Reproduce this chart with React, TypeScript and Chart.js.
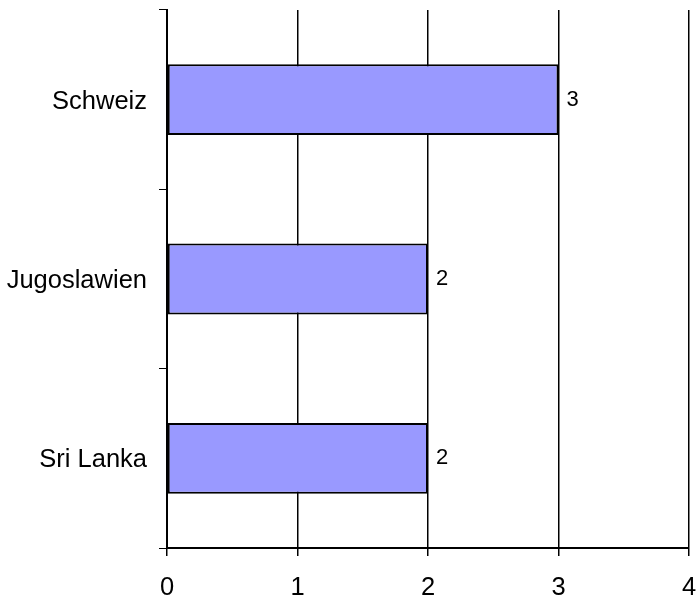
import React, { useEffect, useRef } from "react";
import { Chart, registerables } from "chart.js";

Chart.register(...registerables);

const categories = ["Schweiz", "Jugoslawien", "Sri Lanka"];
const values = [3, 2, 2];
const xMin = 0;
const xMax = 4;

const FONT = "'Liberation Sans', Arial, sans-serif";

const valueLabels = {
  id: "valueLabels",
  afterDatasetsDraw(chart: any) {
    const ctx = chart.ctx;
    const meta = chart.getDatasetMeta(0);
    ctx.save();
    ctx.font = "22px " + FONT;
    ctx.fillStyle = "#000";
    ctx.textAlign = "left";
    ctx.textBaseline = "middle";
    meta.data.forEach((el: any, i: number) => {
      ctx.fillText(String(values[i]), el.x + 8, el.y);
    });
    ctx.restore();
  },
};

export default function App() {
  const ref = useRef<HTMLCanvasElement>(null);
  useEffect(() => {
    if (!ref.current) return;
    const chart = new Chart(ref.current, {
      type: "bar",
      data: {
        labels: categories,
        datasets: [
          {
            data: values,
            backgroundColor: "#9999FF",
            borderColor: "#000000",
            borderWidth: 2,
            borderSkipped: false,
            barPercentage: 0.395,
            categoryPercentage: 1,
          },
        ],
      },
      options: {
        indexAxis: "y",
        responsive: false,
        animation: false,
        layout: { padding: { top: 10, right: 10, left: 0, bottom: 0 } },
        plugins: { legend: { display: false }, tooltip: { enabled: false } },
        scales: {
          x: {
            min: xMin,
            max: xMax,
            ticks: {
              stepSize: 1,
              color: "#000",
              padding: 17,
              font: { family: FONT, size: 25.5 },
            },
            grid: { color: "#000", lineWidth: 1.5, tickLength: 8, drawTicks: true },
            border: { color: "#000", width: 2 },
            afterFit: (s: any) => {
              s.height = 53;
              s.paddingLeft = 0;
              s.paddingRight = 0;
            },
          },
          y: {
            offset: true,
            ticks: {
              color: "#000",
              padding: 12,
              labelOffset: 2,
              font: { family: FONT, size: 25.5 },
            },
            grid: {
              offset: true,
              drawOnChartArea: false,
              color: "#000",
              lineWidth: 1,
              tickLength: 8,
            },
            border: { color: "#000", width: 2 },
            afterFit: (s: any) => {
              s.width = 167;
              s.paddingTop = 0;
              s.paddingBottom = 0;
            },
          },
        },
      },
      plugins: [valueLabels],
    });
    return () => chart.destroy();
  }, []);
  return (
    <div style={{ position: "fixed", left: 0, top: 0, width: 699, height: 601, background: "#fff" }}>
      <canvas ref={ref} width={699} height={601} />
    </div>
  );
}
